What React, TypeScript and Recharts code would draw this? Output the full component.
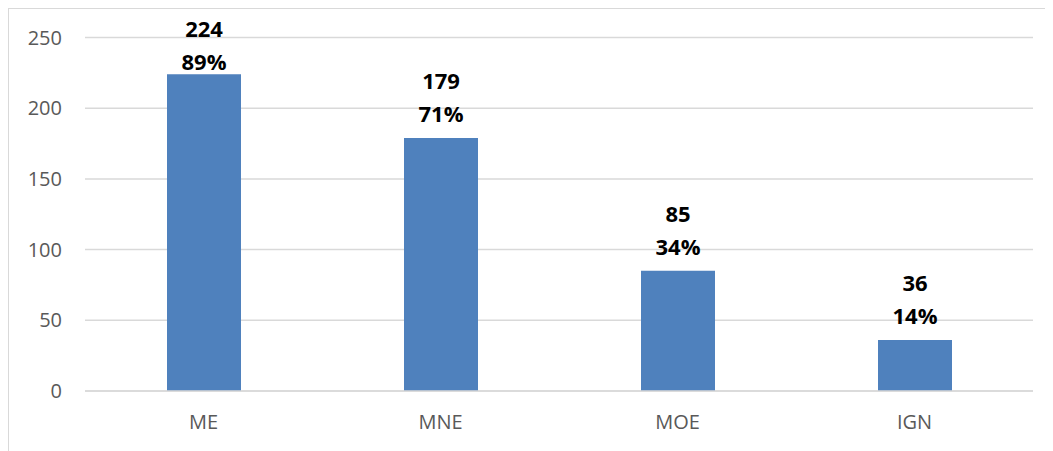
import { BarChart, Bar, XAxis, YAxis, CartesianGrid, LabelList } from "recharts";

const categories = ["ME", "MNE", "MOE", "IGN"];
const counts = [224, 179, 85, 36];
const shares = ["89%", "71%", "34%", "14%"];
const yTicks = [0, 50, 100, 150, 200, 250];

const data = categories.map((name, i) => ({
  name,
  count: counts[i],
  share: shares[i],
}));

const FONT = "'Open Sans', 'Noto Sans', sans-serif";
const GRID = "#d9d9d9";

// two stacked labels above each bar: count, then share; kept inside the chart area
function BarLabel(props: any) {
  const { x, y, width, index } = props;
  const cx = Number(x) + Number(width) / 2;
  const shareBase = Math.max(Number(y) - 16, 61);
  const countBase = shareBase - 33;
  return (
    <g>
      <text
        x={cx}
        y={countBase}
        textAnchor="middle"
        fontFamily={FONT}
        fontWeight={700}
        fontSize={22}
        fill="#000"
      >
        {counts[index]}
      </text>
      <text
        x={cx}
        y={shareBase}
        textAnchor="middle"
        fontFamily={FONT}
        fontWeight={700}
        fontSize={22}
        fill="#000"
      >
        {shares[index]}
      </text>
    </g>
  );
}

export default function App() {
  return (
    <div
      style={{
        width: 1045,
        height: 443,
        borderTop: `1px solid ${GRID}`,
        borderLeft: `1px solid ${GRID}`,
        background: "#fff",
        boxSizing: "border-box",
      }}
    >
      <BarChart
        width={1044}
        height={442}
        data={data}
        margin={{ top: 28.5, right: 20, left: 0, bottom: 0 }}
      >
        <CartesianGrid vertical={false} stroke={GRID} strokeWidth={1.5} />
        <XAxis
          dataKey="name"
          height={60}
          tickSize={0}
          tickMargin={24}
          axisLine={{ stroke: GRID, strokeWidth: 1.5 }}
          tick={{ fill: "#595959", fontSize: 20, fontFamily: FONT }}
        />
        <YAxis
          width={76}
          domain={[0, 250]}
          ticks={yTicks}
          tickSize={0}
          tickMargin={23}
          axisLine={false}
          tick={{ fill: "#595959", fontSize: 20, fontFamily: FONT }}
        />
        <Bar dataKey="count" fill="#4f81bd" barSize={74} isAnimationActive={false}>
          <LabelList dataKey="count" content={BarLabel} />
        </Bar>
      </BarChart>
    </div>
  );
}
